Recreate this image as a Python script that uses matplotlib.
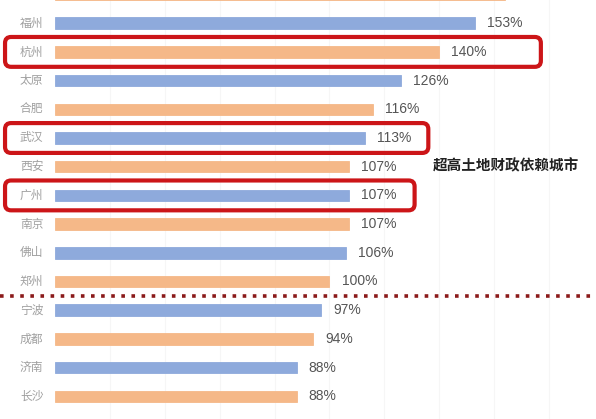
import matplotlib.pyplot as plt
from matplotlib.patches import FancyBboxPatch
import numpy as np

plt.rcParams['font.family'] = ['Noto Sans CJK SC', 'DejaVu Sans']

# --- DATA ---
cities = ["温州", "福州", "杭州", "太原", "合肥", "武汉", "西安", "广州",
          "南京", "佛山", "郑州", "宁波", "成都", "济南", "长沙", "南宁"]
ratio = [164, 153, 140, 126, 116, 113, 107, 107, 107, 106, 100, 97, 94, 88, 88, 87]
value_labels = [f"{v}%" for v in ratio]
highlight = {"杭州": 177, "武汉": 136, "广州": 131}   # right edge of red box
note = "超高土地财政依赖城市"

BLUE = "#8eaadc"
ORANGE = "#f5b888"
colors = [ORANGE if i % 2 == 0 else BLUE for i in range(len(cities))]

fig = plt.figure(figsize=(5.96, 4.19), dpi=100)
ax = fig.add_axes([0, 0, 1, 1])
y = np.arange(len(cities))

# very faint vertical grid
for gx in range(20, 200, 20):
    ax.axvline(gx, color="#f6f6f6", lw=0.8, zorder=0)

ax.barh(y, ratio, height=0.4, color=colors,
        edgecolor=colors, linewidth=0.6, zorder=2)

for i, (c, v, lab) in enumerate(zip(cities, ratio, value_labels)):
    ax.text(-4.2, i, c, ha="right", va="center", fontsize=8.5, color="#a0a0a0")
    ax.text(v + 4.4, i, lab, ha="left", va="center",
            fontsize=10, color="#555555", family=["Liberation Sans", "DejaVu Sans"])

# red rounded boxes around highlighted cities
sx, sy = 2.745, 28.7
top_px = 5.5
for c, right in highlight.items():
    i = cities.index(c)
    box = FancyBboxPatch((-18.2, i - 0.52), right + 18.2, 1.04,
                         boxstyle="round,pad=0,rounding_size=2.2",
                         mutation_aspect=sx / sy,
                         fill=False, edgecolor="#cc1518", linewidth=3, zorder=4)
    ax.add_patch(box)

# dotted separator between 郑州 and 宁波
ax.axhline(cities.index("郑州") + 0.5, color="#8b1a1a", lw=2.6,
           linestyle=(0, (1, 1.8)), zorder=3)

ax.text(137.7, 5.96, note, ha="left", va="center", fontsize=10.5,
        fontweight="bold", color="#222222")

ax.set_xlim(-55 / sx, (596 - 55) / sx)
ax.set_ylim((419 + top_px) / sy, top_px / sy)
ax.axis("off")

fig.savefig("out.png", dpi=100, facecolor="white")
